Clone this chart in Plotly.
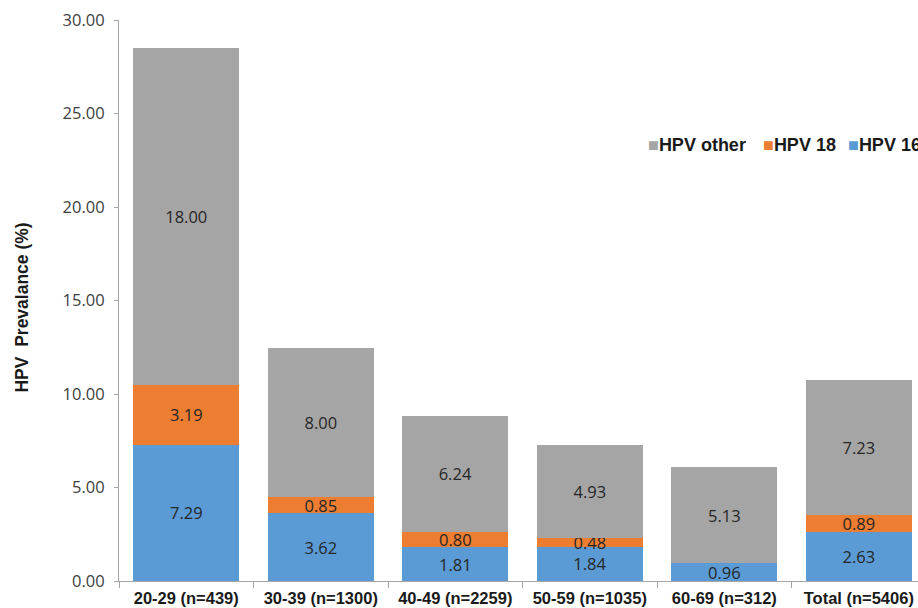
import plotly.graph_objects as go

# Age groups and stacked prevalence values (%)
categories = ["20-29 (n=439)", "30-39 (n=1300)", "40-49 (n=2259)",
              "50-59 (n=1035)", "60-69 (n=312)", "Total (n=5406)"]
hpv16 = [7.29, 3.62, 1.81, 1.84, 0.96, 2.63]
hpv18 = [3.19, 0.85, 0.80, 0.48, 0.00, 0.89]
hpv_other = [18.00, 8.00, 6.24, 4.93, 5.13, 7.23]
y_ticks = [0, 5, 10, 15, 20, 25, 30]

series = [
    ("HPV 16", hpv16, "#5B9BD5"),
    ("HPV 18", hpv18, "#ED7D31"),
    ("HPV other", hpv_other, "#A5A5A5"),
]

label_font = dict(family="Open Sans, Liberation Sans, sans-serif", size=16.5, color="#262626")
bold_font = dict(family="Liberation Sans, Arial, sans-serif", color="#1a1a1a", weight="bold")

fig = go.Figure()
for name, vals, color in series:
    fig.add_trace(go.Bar(
        x=categories, y=vals, name=name,
        marker=dict(color=color, line=dict(width=0)),
        text=[f"{v:.2f}" if v > 0 else "" for v in vals],
        textposition="inside", insidetextanchor="middle", textangle=0,
        constraintext="none", cliponaxis=False,
        textfont=label_font, insidetextfont=label_font,
        hoverinfo="skip", showlegend=False,
    ))

# Legend drawn as a row of text entries with coloured square glyphs
legend_items = [
    (0.660, "HPV other", "#A5A5A5"),
    (0.803, "HPV 18", "#ED7D31"),
    (0.910, "HPV 16", "#5B9BD5"),
]
annotations = [
    dict(text=f"<span style='color:{c}'>■</span>{name}", xref="paper", yref="paper",
         x=x, y=0.777, xanchor="left", yanchor="middle", showarrow=False,
         font=dict(size=18, **bold_font))
    for x, name, c in legend_items
]
annotations.append(dict(
    text="HPV  Prevalance (%)", xref="paper", yref="paper",
    x=-0.121, y=0.488, xanchor="center", yanchor="middle",
    textangle=-90, showarrow=False, font=dict(size=17.5, **bold_font),
))

fig.update_layout(
    barmode="stack", bargap=0.21,
    width=918, height=608,
    margin=dict(l=119, r=0, t=20, b=27, autoexpand=False),
    plot_bgcolor="white", paper_bgcolor="white",
    showlegend=False,
    xaxis=dict(
        type="category", range=[-0.5, 5.44],
        showline=True, linecolor="#A6A6A6", linewidth=1,
        ticks="outside", tickson="boundaries", ticklen=6, tickcolor="#A6A6A6",
        tickfont=dict(family="Liberation Sans Narrow, Arial Narrow, Liberation Sans, sans-serif",
                      size=16.5, color="#1a1a1a", weight="bold"),
        ticklabelstandoff=2,
        showgrid=False, fixedrange=True,
    ),
    yaxis=dict(
        range=[0, 30], tickvals=y_ticks, ticktext=[f"{t:.2f}" for t in y_ticks],
        showline=True, linecolor="#A6A6A6", linewidth=1,
        ticks="outside", ticklen=4, tickcolor="#A6A6A6",
        tickfont=dict(family="Open Sans, Liberation Sans, sans-serif", size=16.5, color="#404040"),
        ticklabelstandoff=6,
        showgrid=False, zeroline=False, fixedrange=True,
    ),
    annotations=annotations,
)

fig.write_html("out.html")
